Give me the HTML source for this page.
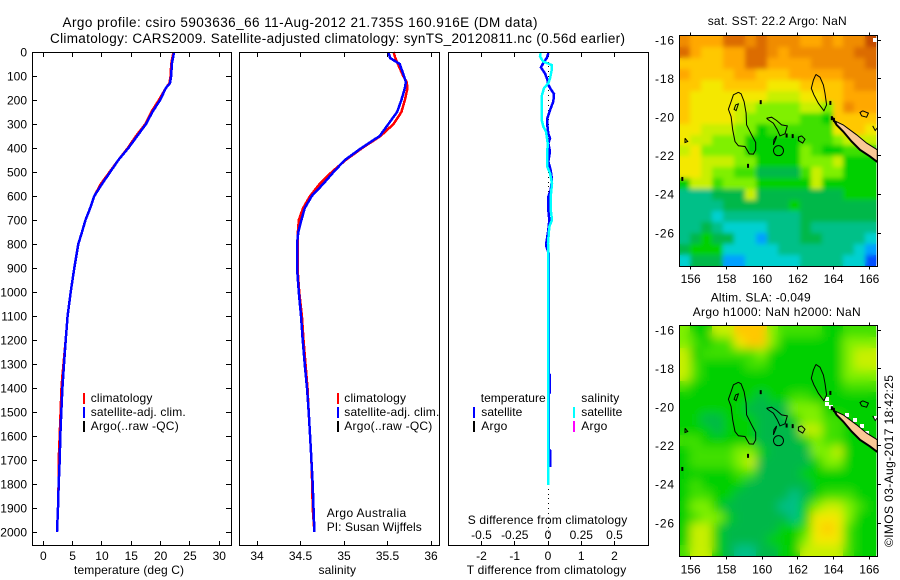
<!DOCTYPE html>
<html lang="en">
<head>
<meta charset="utf-8">
<title>Argo profile csiro 5903636_66</title>
<style>
html,body{margin:0;padding:0;background:#fff;width:900px;height:580px;overflow:hidden}
svg{display:block}
text{font-family:"Liberation Sans",Arial,sans-serif;font-size:12px;fill:#000}
.title{font-size:13.5px}
.frame{fill:none;stroke:#000;stroke-width:1;shape-rendering:crispEdges}
.bar{shape-rendering:crispEdges}
</style>
</head>
<body>
<svg id="chart" xmlns="http://www.w3.org/2000/svg" width="900" height="580" viewBox="0 0 900 580">
  <defs>
    <clipPath id="clip-sst"><rect x="680" y="36" width="198" height="230"/></clipPath>
    <clipPath id="clip-sla"><rect x="680" y="326" width="198" height="230"/></clipPath>
    <filter id="blur-sst" x="-10%" y="-10%" width="120%" height="120%"><feGaussianBlur stdDeviation="2.5"/></filter>
    <filter id="blur-sla" x="-10%" y="-10%" width="120%" height="120%"><feGaussianBlur stdDeviation="5"/></filter>
  </defs>
  <rect width="900" height="580" fill="#fff"/>

  <text class="title" x="62.5" y="27" textLength="475">Argo profile: csiro 5903636_66 11-Aug-2012 21.735S 160.916E (DM data)</text>
  <text class="title" x="50" y="43" textLength="575">Climatology: CARS2009. Satellite-adjusted climatology: synTS_20120811.nc (0.56d earlier)</text>

  <g id="panel-t"></g>
  <g id="panel-s"></g>
  <g id="panel-d"></g>
  <g id="map-sst"></g>
  <g id="map-sla"></g>

  <rect class="frame" x="32.5" y="52.5" width="199" height="493"/>
  <rect class="frame" x="239.5" y="52.5" width="200" height="493"/>
  <rect class="frame" x="448.5" y="52.5" width="200" height="493"/>
  <rect class="frame" x="679.5" y="35.5" width="198" height="231"/>
  <rect class="frame" x="679.5" y="325.5" width="198" height="231"/>

  <text x="74" y="574" textLength="110">temperature (deg C)</text>
  <text x="318.5" y="574" textLength="37.5">salinity</text>
  <text x="466.7" y="574" textLength="159.5">T difference from climatology</text>
  <text x="467.7" y="524" textLength="159.5">S difference from climatology</text>

  <g>
    <rect class="bar" x="83" y="393" width="2" height="11" fill="#f00"/>
    <rect class="bar" x="83" y="407" width="2" height="11" fill="#00f"/>
    <rect class="bar" x="83" y="421" width="2" height="11" fill="#000"/>
    <text x="90.7" y="402" textLength="61.7">climatology</text>
    <text x="90.7" y="416" textLength="95">satellite-adj. clim.</text>
    <text x="90.7" y="430" textLength="88">Argo(..raw -QC)</text>
  </g>
  <g>
    <rect class="bar" x="337" y="393" width="2" height="11" fill="#f00"/>
    <rect class="bar" x="337" y="407" width="2" height="11" fill="#00f"/>
    <rect class="bar" x="337" y="421" width="2" height="11" fill="#000"/>
    <text x="344.3" y="402" textLength="61.7">climatology</text>
    <text x="344.3" y="416" textLength="95">satellite-adj. clim.</text>
    <text x="344.3" y="430" textLength="88">Argo(..raw -QC)</text>
    <text x="326.7" y="517" textLength="79.5">Argo Australia</text>
    <text x="326.7" y="531" textLength="95">PI: Susan Wijffels</text>
  </g>
  <g>
    <text x="480.7" y="402" textLength="65">temperature</text>
    <rect class="bar" x="473" y="407" width="2" height="11" fill="#00f"/>
    <rect class="bar" x="473" y="421" width="2" height="11" fill="#000"/>
    <text x="481.3" y="416" textLength="41">satellite</text>
    <text x="481.3" y="430" textLength="26">Argo</text>
    <text x="581.3" y="402" textLength="38">salinity</text>
    <rect class="bar" x="573" y="407" width="2" height="11" fill="#0ff"/>
    <rect class="bar" x="573" y="421" width="2" height="11" fill="#f0f"/>
    <text x="581.3" y="416" textLength="41">satellite</text>
    <text x="581.3" y="430" textLength="26">Argo</text>
  </g>

  <text x="707.7" y="25" textLength="139">sat. SST: 22.2 Argo: NaN</text>
  <text x="710.7" y="301.5" textLength="100">Altim. SLA: -0.049</text>
  <text x="692.7" y="316" textLength="168">Argo h1000: NaN h2000: NaN</text>
  <text transform="translate(893,547) rotate(-90)" textLength="172">©IMOS 03-Aug-2017 18:42:25</text>
</svg>
<script>
// Shared depth ticks
const depthTicks = [0,100,200,300,400,500,600,700,800,900,1000,1100,1200,1300,1400,1500,1600,1700,1800,1900,2000];
const tempTicks = [0,5,10,15,20,25,30];
const salTicks = [34,34.5,35,35.5,36];
const salTickLabels = ['34','34.5','35','35.5','36'];
const tDiffTicks = [-2,-1,0,1,2];
const sDiffTickLabels = ['-0.5','-0.25','0','0.25','0.5'];
const lonTicks = [156,158,160,162,164,166];
const latTicks = [-16,-18,-20,-22,-24,-26];

// Temperature profile
const tDepths = [0,50,100,130,150,200,250,300,350,400,450,500,550,600,650,700,750,800,900,1000,1100,1200,1300,1350,1400,1500,1600,1700,1800,1900,2000];
const tSatellite = [22.3,21.9,21.8,21.6,20.9,19.9,18.6,17.5,16.0,14.5,12.8,11.4,10.0,8.7,8.0,7.2,6.6,5.97,5.29,4.67,4.15,3.81,3.53,3.4,3.25,3.07,2.9,2.8,2.62,2.5,2.33];
const tClimatology = [22.2,21.8,21.7,21.5,20.9,19.7,18.4,17.4,15.8,14.4,12.8,11.3,9.8,8.7,8.0,7.2,6.6,5.97,5.29,4.67,4.15,3.81,3.45,3.25,3.1,2.95,2.8,2.62,2.6,2.5,2.33];

// Salinity profile
const sDepths = [0,25,50,100,125,150,200,250,300,350,400,450,500,550,600,650,700,750,800,900,1000,1100,1200,1300,1400,1500,1600,1700,1800,1900,2000];
const sSatellite = [35.51,35.53,35.64,35.69,35.71,35.70,35.66,35.61,35.51,35.41,35.20,35.01,34.88,34.76,34.63,34.55,34.51,34.475,34.46,34.46,34.48,34.506,34.525,34.548,34.575,34.594,34.61,34.625,34.64,34.65,34.66];
const sClimatology = [35.57,35.59,35.62,35.68,35.72,35.73,35.70,35.66,35.57,35.42,35.21,35.02,34.86,34.72,34.61,34.53,34.48,34.47,34.465,34.465,34.485,34.516,34.535,34.558,34.58,34.594,34.61,34.625,34.635,34.64,34.66];

// Differences from climatology
const tDiffDepths = [5,26,40,64,89,114,137,161,175,207,242,276,304,339,360,380,415,457,492,533,575,603,658,700,742,804,839,1340,1345,1420,1425,1655,1660,1730];
const tDiffValues = [0.01,-0.04,-0.12,-0.21,-0.09,-0.02,0.01,0.11,0.18,0.16,0.06,-0.02,-0.02,0.01,0.06,0.01,0.06,0.01,0.08,0.12,0.08,0.01,0.01,0.04,0.01,-0.06,0.02,0.02,0.05,0.05,0.02,0.02,0.06,0.06];
const sDiffDepths = [5,19,40,54,75,110,130,151,179,228,283,311,332,380,422,478,505,547,603,658,700,728,797,1033,1804];
const sDiffValues = [-0.055,-0.06,-0.035,0.0275,0.0275,0.015,0.0025,-0.03,-0.045,-0.0475,-0.0475,-0.035,-0.015,-0.0025,-0.005,-0.005,0.015,0.03,0.02,0.02,0.03,0.01,0,0,0];
const argoDotDepths = [40,60,80,100,120,140,160,180,200,220,240,260,280,300,320,340,360,380,400,420,440,460,480,500,520,540,560,580,600,620,640,660,680,1820,1840,1860,1880,1900,1920,1940,1960,1980,2000,2020,2040];
const argoDotValues = [0,0.01,0,0.01,0,0,0,0.01,0,0.01,0,0.01,0,0,0,0,0,0,0,0,0,0.01,0,0.01,0,0,0,0,0,0,0,0,0,0,0,0,0,0,0,0,0,0,0,0,0];

// Map 1: sea surface temperature colour level (one row per latitude band, north to south)
const sstLevels = [
[12,11,11,11,13,13,12,13,12,12,12,11,11,12,11,12,12,14],
[13,11,10,10,11,11,13,13,12,11,12,12,12,12,12,12,13,13],
[10,10,10,10,11,11,13,13,11,11,11,11,12,12,12,12,12,13],
[11,10,10,10,10,11,11,10,10,10,11,11,11,11,11,12,12,12],
[10,10,9,9,10,10,10,10,9,9,9,10,10,10,10,11,12,12],
[10,9,9,9,9,9,9,9,8,8,8,9,9,10,10,11,11,11],
[10,9,9,9,9,8,8,7,7,7,7,8,8,7,10,12,11,11],
[10,9,9,9,9,8,7,7,7,7,7,6,6,5,10,10,10,10],
[9,9,8,8,8,7,7,5,6,6,6,6,6,6,9,10,10,9],
[9,8,8,7,7,7,5,5,5,5,5,6,6,6,7,8,8,8],
[8,9,7,7,7,7,5,5,5,5,5,7,6,5,5,6,6,6],
[9,9,8,8,8,7,7,5,5,5,5,7,7,7,8,5,5,5],
[9,9,8,7,7,6,6,4,4,4,4,6,8,7,7,5,5,5],
[5,8,8,6,7,7,7,5,5,5,5,5,8,5,5,5,5,5],
[3,3,3,4,4,4,8,4,4,4,4,4,4,4,4,5,5,5],
[3,3,3,3,4,4,4,4,4,4,5,4,4,4,4,4,4,4],
[3,3,3,2,3,3,3,3,3,3,3,4,4,4,4,4,4,4],
[3,3,4,3,2,2,2,2,3,3,3,4,3,3,3,3,3,3],
[3,4,5,4,4,2,2,1,3,3,3,4,4,3,3,3,3,2],
[4,5,5,5,2,2,2,2,2,3,3,3,3,3,3,3,2,1],
[2,4,4,4,1,1,2,2,2,2,2,3,3,3,3,2,2,0]
];

// Map 2: altimeter sea level anomaly colour level
const slaLevels = [
[7,5,5,8,8,10,10,10,7,6,6,6,6,5,5,6,6,6],
[7,6,5,6,6,9,10,10,7,5,5,5,5,5,5,7,7,7],
[8,5,6,6,6,6,6,7,5,5,5,5,5,5,5,7,8,8],
[8,6,5,5,5,5,6,6,5,5,5,5,5,5,5,7,8,8],
[8,6,5,5,5,5,5,5,5,5,5,5,5,5,5,7,7,7],
[6,5,5,5,5,5,5,5,5,5,5,5,5,5,5,6,6,6],
[5,5,5,5,5,5,5,4,5,5,6,6,5,5,5,5,5,5],
[5,5,5,5,5,5,4,4,4,4,7,7,7,5,5,5,5,5],
[5,5,4,4,5,5,5,4,4,4,5,7,7,6,6,5,5,5],
[5,5,5,4,5,5,5,4,4,4,4,8,8,6,6,5,5,5],
[6,6,5,5,5,5,5,4,4,4,4,5,7,6,6,5,5,5],
[5,6,6,6,6,7,7,5,4,4,4,4,7,7,8,5,5,5],
[5,6,6,6,6,7,8,4,4,4,4,4,5,7,7,5,5,5],
[5,5,5,5,5,6,6,4,4,4,4,5,5,5,5,5,5,5],
[5,6,5,5,5,5,4,4,4,4,4,4,5,5,5,5,5,5],
[5,6,6,5,5,4,4,4,4,4,3,4,5,6,6,6,5,5],
[5,7,7,5,4,4,4,4,4,3,3,5,7,8,8,7,6,5],
[5,6,7,7,5,4,4,4,4,4,3,5,9,9,9,7,5,5],
[5,8,8,5,4,4,4,4,4,5,5,6,9,10,9,6,5,5],
[5,8,8,5,4,4,4,4,5,5,5,7,9,9,9,6,5,5],
[6,8,8,5,4,3,3,4,4,5,5,8,8,8,8,6,5,5]
];

// Coastlines as [lon, lat] pairs
const reefA = [[158.67,-18.71],[158.39,-18.84],[158.26,-19.19],[158.11,-19.59],[158.26,-19.97],[158.35,-20.66],[158.48,-21.26],[158.67,-21.48],[159.04,-21.52],[159.28,-21.90],[159.51,-21.91],[159.64,-21.69],[159.64,-21.31],[159.41,-20.91],[159.13,-20.40],[159.10,-19.79],[158.99,-19.19],[158.82,-18.79],[158.67,-18.71]];
const reefAInner = [[158.52,-19.36],[158.67,-19.31],[158.54,-19.66],[158.43,-19.59],[158.52,-19.36]];
const reefB = [[160.25,-20.05],[160.53,-20.0],[160.81,-20.17],[161.09,-20.40],[161.41,-20.45],[161.28,-20.86],[161.0,-20.97],[160.85,-20.66],[160.63,-20.31],[160.35,-20.14],[160.25,-20.05]];
const reefBTail = [[160.81,-20.97],[160.66,-21.17],[160.63,-21.43],[160.78,-21.09],[160.81,-20.97]];
const reefC = [[162.21,-20.97],[162.40,-21.14],[162.27,-21.34],[162.03,-21.21],[162.03,-21.03],[162.21,-20.97]];
const reefD = [[163.01,-17.78],[163.24,-17.93],[163.43,-18.33],[163.52,-18.76],[163.61,-19.36],[163.46,-19.67],[163.15,-19.28],[162.90,-18.84],[162.75,-18.50],[162.87,-18.07],[163.01,-17.78]];
const reefE = [[165.63,-19.67],[165.95,-19.79],[165.85,-20.0],[165.57,-19.93],[165.48,-19.76],[165.63,-19.67]];
const reefF = [[155.68,-21.09],[155.83,-21.26],[155.68,-21.31],[155.68,-21.09]];
const reefG = [[166.19,-20.45],[166.33,-20.69],[166.5,-20.5]];
const newCaledonia = [[164.13,-20.22],[164.54,-20.40],[165.29,-20.91],[165.85,-21.34],[166.45,-21.69],[166.45,-22.29],[166.04,-22.03],[165.48,-21.69],[165.01,-21.26],[164.54,-20.74],[164.17,-20.40],[164.13,-20.22]];
const newCaledoniaSouthCoast = [[163.9,-19.98],[164.17,-20.40],[164.54,-20.74],[165.01,-21.26],[165.48,-21.69],[166.04,-22.03],[166.45,-22.32]];
const islets = [[159.92,-19.22],[159.21,-22.52],[161.37,-20.95],[161.71,-20.98],[163.82,-19.26],[155.53,-23.2],[163.9,-20.05],[164.02,-20.14]];
const profileLocation = [160.916,-21.735];
const sstMissingCells = [[166.3,-16.0]];
const slaMissingCells = [[163.61,-19.55],[163.61,-19.81],[163.85,-20.01],[164.73,-20.41],[165.2,-20.64],[165.57,-20.98],[165.85,-21.33],[166.35,-20.58]];

const levelPalette = ['#0050ff','#00a0ff','#00d0d0','#00c088','#00b848','#00d000','#40e000','#80f000','#c8f000','#f4e800','#ffc800','#ffa800','#f08c00','#dc6c00','#c44c00'];

const NS = 'http://www.w3.org/2000/svg';
function el(tag, attrs, parent){
  const n = document.createElementNS(NS, tag);
  for(const k in attrs) n.setAttribute(k, attrs[k]);
  parent.appendChild(n);
  return n;
}
const yDepth = d => 52 + 0.24*d;
const xTemp = t => 43.3 + 5.867*t;
const xSal = s => 257 + 87*(s-34);
const xTDiff = v => 548 + 33.25*v;
const xSDiff = v => 548 + 133*v;

function drawLine(parent, xs, ys, color, width, name){
  const pts = xs.map((x,i)=>x.toFixed(1)+','+ys[i].toFixed(1)).join(' ');
  const p = el('polyline',{points:pts,fill:'none',stroke:color,'stroke-width':width,'stroke-linejoin':'miter','shape-rendering':'crispEdges'},parent);
  
  
}
function drawTickMark(parent,x1,y1,x2,y2){
  const t = el('line',{x1:x1,y1:y1,x2:x2,y2:y2,stroke:'#000','stroke-width':1,'shape-rendering':'crispEdges'},parent);
  
  
}
function drawLabel(parent,x,y,str,anchor,len){
  const t = el('text',{x:x,y:y,'text-anchor':anchor},parent);
  if(len) t.setAttribute('textLength', len);
  t.textContent = str;
  
  
}
const snap = v => Math.round(v-0.5)+0.5;

function bottomTopTicks(parent,values,labels,xf){
  values.forEach((v,i)=>{
    const x = snap(xf(v));
    drawTickMark(parent,x,52.5,x,57);
    drawTickMark(parent,x,545.5,x,541);
    drawLabel(parent,xf(v),560,labels[i],'middle');
  });
}

// Temperature panel
const panelT = document.getElementById('panel-t');
bottomTopTicks(panelT,tempTicks,tempTicks.map(String),xTemp);
depthTicks.forEach(d=>{
  const y = snap(yDepth(d));
  drawTickMark(panelT,32.5,y,37,y);
  drawTickMark(panelT,231.5,y,226,y);
  drawLabel(panelT,27,yDepth(d)+4.3,String(d),'end');
});
drawLine(panelT,tClimatology.map(xTemp),tDepths.map(yDepth),'#f00',2.5,'temperature-climatology-line');
drawLine(panelT,tSatellite.map(xTemp),tDepths.map(yDepth),'#00f',2.5,'temperature-satellite-line');

// Salinity panel
const panelS = document.getElementById('panel-s');
bottomTopTicks(panelS,salTicks,salTickLabels,xSal);
drawLine(panelS,sClimatology.map(xSal),sDepths.map(yDepth),'#f00',2.5,'salinity-climatology-line');
drawLine(panelS,sSatellite.map(xSal),sDepths.map(yDepth),'#00f',2.5,'salinity-satellite-line');

// Difference panel
const panelD = document.getElementById('panel-d');
bottomTopTicks(panelD,tDiffTicks,tDiffTicks.map(String),xTDiff);
tDiffTicks.forEach((v,i)=>{
  drawLabel(panelD,xTDiff(v),539,sDiffTickLabels[i],'middle');
});
argoDotDepths.forEach((d,i)=>{
  const dot = el('rect',{x:Math.round(xTDiff(argoDotValues[i])),y:Math.round(yDepth(d)),width:1,height:1,fill:'#000','shape-rendering':'crispEdges'},panelD);
  
  
});
drawLine(panelD,tDiffValues.map(xTDiff),tDiffDepths.map(yDepth),'#00f',2.5,'temperature-difference-line');
drawLine(panelD,sDiffValues.map(xSDiff),sDiffDepths.map(yDepth),'#0ff',2.5,'salinity-difference-line');

// Maps
function drawMap(groupId,clipId,blurId,levels,missing,yNeg16,labelBase,frameTop,frameBottom,prefix){
  const g = document.getElementById(groupId);
  const xLon = lon => 690.7 + 17.86*(lon-156);
  const yLat = lat => yNeg16 + 19.3*(-16-lat);
  const lonStart = 155.37, dLon = 11.02/18;
  const latStart = -15.79, dLat = 11.92/21;
  const img = el('g',{'clip-path':'url(#'+clipId+')'},g);
  
  
  const cells = el('g',{id:prefix+'-cells'},img);
  
  
  levels.forEach((row,r)=>{
    row.forEach((v,c)=>{
      const x0 = Math.round(xLon(lonStart+c*dLon)), x1 = Math.round(xLon(lonStart+(c+1)*dLon));
      const y0 = Math.round(yLat(latStart-r*dLat)), y1 = Math.round(yLat(latStart-(r+1)*dLat));
      const idx = Math.max(0,Math.min(levelPalette.length-1,Math.round(v)));
      const cell = el('rect',{x:x0,y:y0,width:x1-x0,height:y1-y0,fill:levelPalette[idx],'shape-rendering':'crispEdges'},cells);
      
      
    });
  });
  const soft = el('use',{href:'#'+prefix+'-cells',filter:'url(#'+blurId+')'},img);
  
  
  missing.forEach(m=>{
    const cell = el('rect',{x:Math.round(xLon(m[0]))-2,y:Math.round(yLat(m[1]))-2,width:4,height:4,fill:'#fff','shape-rendering':'crispEdges'},img);
    
    
  });
  const toPts = arr => arr.map(p=>xLon(p[0]).toFixed(1)+','+yLat(p[1]).toFixed(1)).join(' ');
  const land = el('polygon',{points:toPts(newCaledonia),fill:'#fac896',stroke:'#000','stroke-width':1},img);
  
  
  const south = el('polyline',{points:toPts(newCaledoniaSouthCoast),fill:'none',stroke:'#000','stroke-width':2},img);
  
  
  [reefA,reefAInner,reefB,reefBTail,reefC,reefD,reefE,reefF,reefG].forEach(r=>{
    const l = el('polyline',{points:toPts(r),fill:'none',stroke:'#000','stroke-width':1},img);
    
    
  });
  islets.forEach(p=>{
    const s = el('rect',{x:xLon(p[0])-1,y:yLat(p[1])-2,width:2,height:4,fill:'#000'},img);
    
    
  });
  const ring = el('circle',{cx:xLon(profileLocation[0]),cy:yLat(profileLocation[1]),r:5,fill:'none',stroke:'#000','stroke-width':1},img);
  
  
  lonTicks.forEach(lon=>{
    const x = snap(xLon(lon));
    drawTickMark(g,x,frameTop,x,frameTop-3);
    drawTickMark(g,x,frameBottom,x,frameBottom+3);
    drawLabel(g,xLon(lon),labelBase,String(lon),'middle');
  });
  latTicks.forEach(lat=>{
    const y = snap(yLat(lat));
    drawTickMark(g,877.5,y,881,y);
    drawLabel(g,674,yLat(lat)+4.3,String(lat),'end',19);
  });
}
drawMap('map-sst','clip-sst','blur-sst',sstLevels,sstMissingCells,40,283,35.5,266.5,'sst');
drawMap('map-sla','clip-sla','blur-sla',slaLevels,slaMissingCells,330,573.5,325.5,556.5,'sla');
</script>
</body>
</html>
